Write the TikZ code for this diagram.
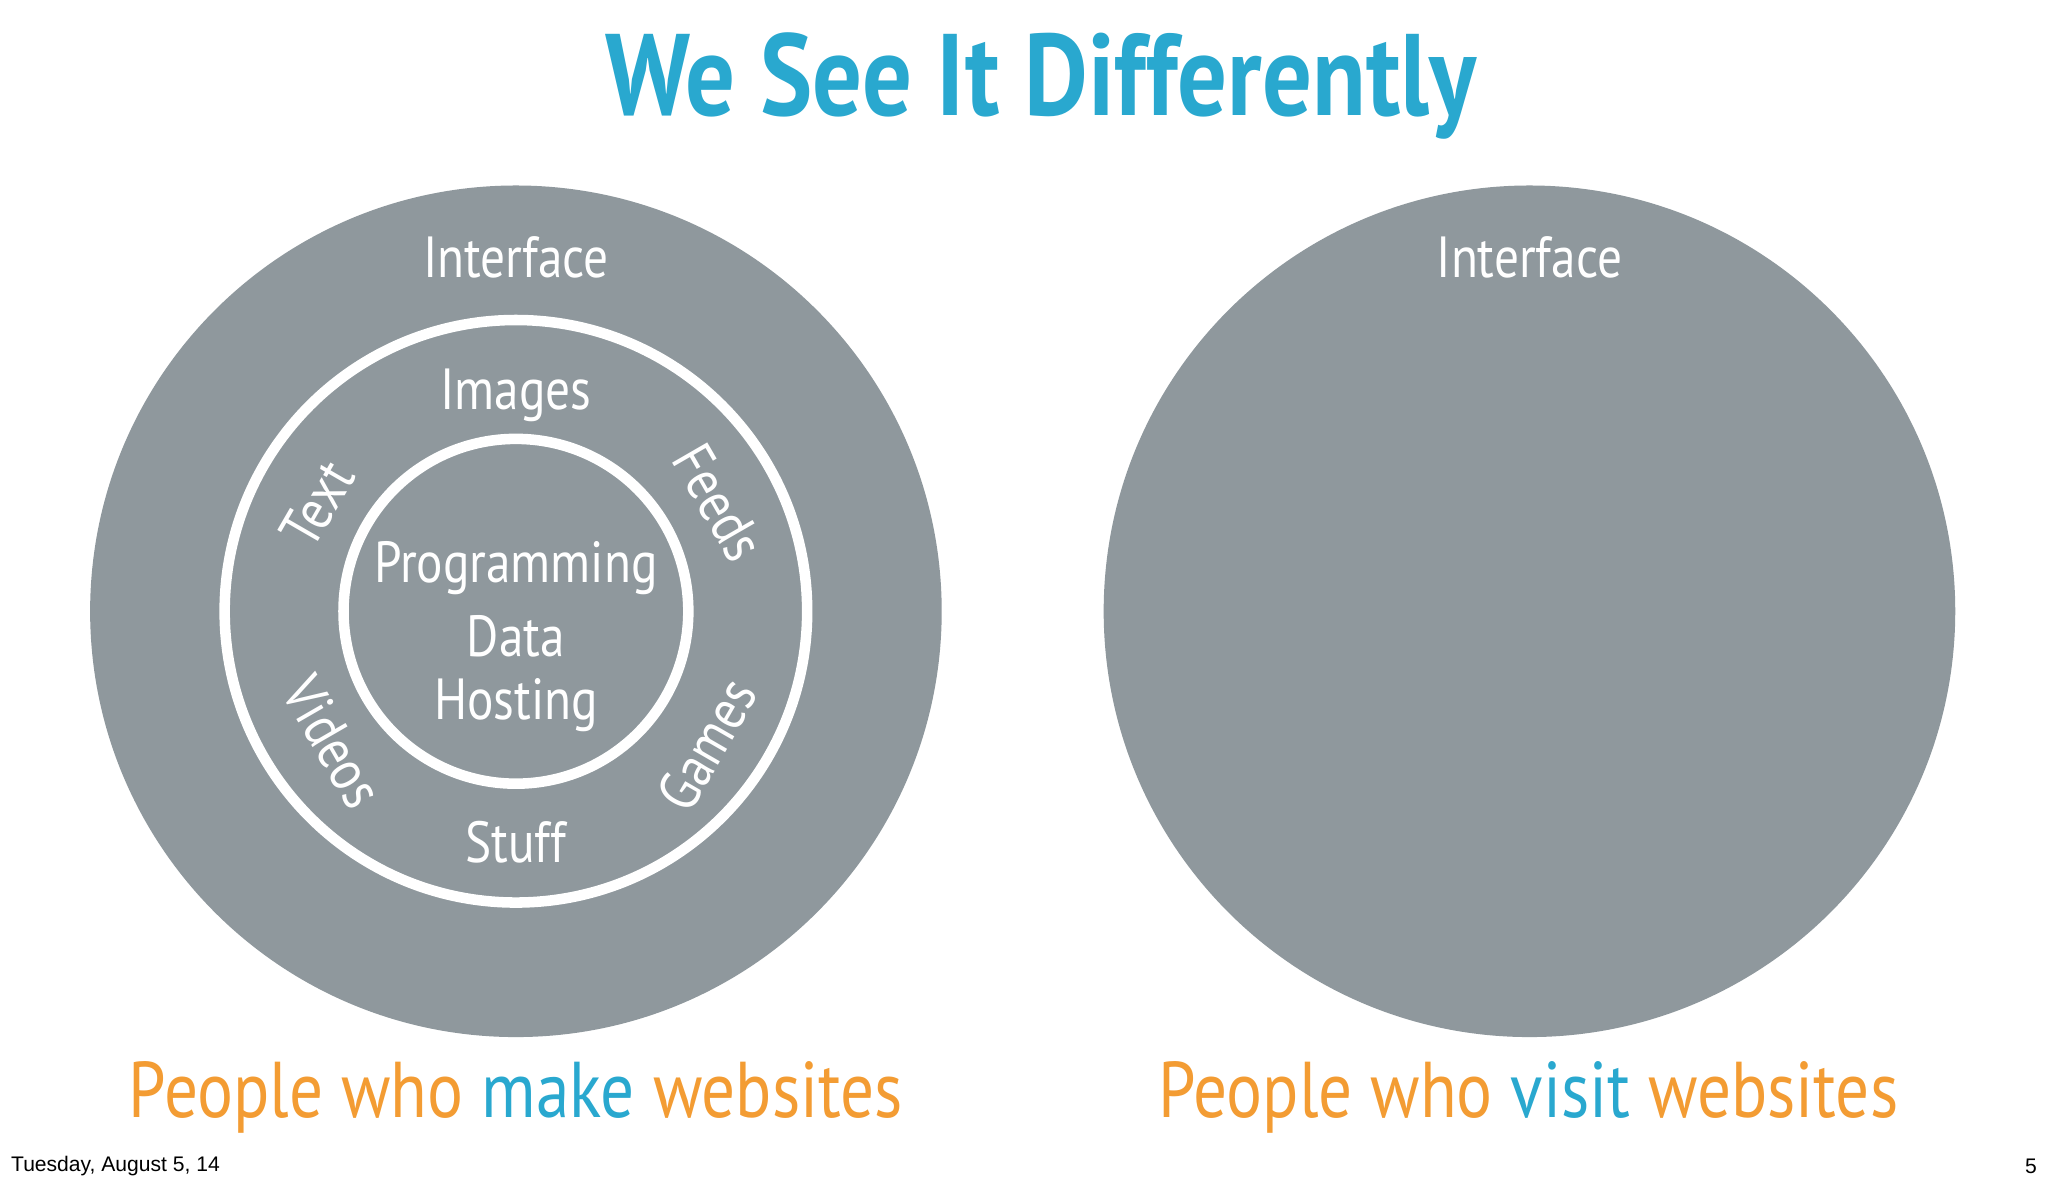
\documentclass[tikz,border=0pt]{standalone}
\usepackage{fontspec}
\setmainfont[FakeStretch=0.85]{PT Sans}
\newfontfamily\footfont{Liberation Sans}
\definecolor{gr}{HTML}{8F989D}
\definecolor{tblue}{HTML}{29A8CF}
\definecolor{torange}{HTML}{F39C33}
\begin{document}
\begin{tikzpicture}[x=0.013061cm,y=-0.013061cm,
  lbl/.style={text=white,font=\fontsize{16.5}{18}\selectfont,inner sep=0pt},
  ring/.style={draw=white,line width=3pt},
  bottom/.style={text=torange,font=\fontsize{22.5}{26}\selectfont,inner sep=0pt}]
\useasboundingbox[fill=white] (0,0) rectangle (1568,907);
\node[text=tblue,font=\fontsize{33}{36}\selectfont\bfseries] (title) at (797,66) {We See It Differently};
\fill[gr] (395,468) circle (326);
\fill[gr] (1171,468) circle (326);
\draw[ring] (395,468) circle (223);
\draw[ring] (395,468) circle (132);
\node[lbl] (if1) at (395,197) {Interface};
\node[lbl] (if2) at (1171,197) {Interface};
\node[lbl] (img) at (395,303) {Images};
\node[lbl,rotate=-60] (feeds) at (550,385) {Feeds};
\node[lbl,rotate=60] (text) at (243,386) {Text};
\node[lbl,rotate=-60] (videos) at (255,568) {Videos};
\node[lbl,rotate=60] (games) at (541,570) {Games};
\node[lbl] (stuff) at (395,645) {Stuff};
\node[lbl] (prog) at (395,435) {Programming};
\node[lbl] (data) at (395,487) {Data};
\node[lbl] (host) at (395,540) {Hosting};
\node[bottom] (b1) at (395,840) {People who \textcolor{tblue}{make} websites};
\node[bottom] (b2) at (1170,840) {People who \textcolor{tblue}{visit} websites};
\node[anchor=west,inner sep=0pt,font=\footfont\fontsize{6}{7}\selectfont] (date) at (8,893) {Tuesday, August 5, 14};
\node[anchor=east,inner sep=0pt,font=\footfont\fontsize{6}{7}\selectfont] (pg) at (1560,893) {5};
\end{tikzpicture}
\end{document}
